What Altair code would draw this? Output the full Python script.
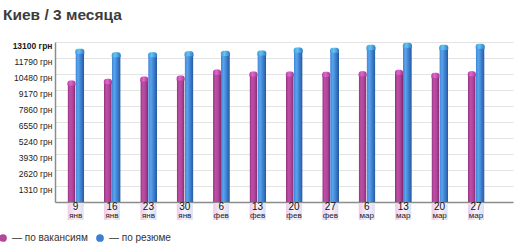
import altair as alt
import pandas as pd

# ---- data ----
days = ["9", "16", "23", "30", "6", "13", "20", "27", "6", "13", "20", "27"]
months = ["янв", "янв", "янв", "янв", "фев", "фев", "фев", "фев", "мар", "мар", "мар", "мар"]
vacancies = [9950, 10090, 10280, 10360, 10840, 10690, 10690, 10660, 10710, 10830, 10580, 10710]
resumes = [12550, 12270, 12270, 12350, 12380, 12410, 12650, 12630, 12870, 13040, 12870, 12960]
y_ticks = [1310, 2620, 3930, 5240, 6550, 7860, 9170, 10480, 11790, 13100]
series_names = ["по вакансиям", "по резюме"]
series_colors = ["#b3479c", "#3b80d4"]

df = pd.DataFrame({"i": list(range(len(days))), "day": days, "month": months,
                   "vac": vacancies, "res": resumes})

FONT = "Liberation Sans"
W, H = 458, 160

x_scale = alt.Scale(domain=[-0.43, 11.88], nice=False, zero=False)
y_scale = alt.Scale(domain=[0, 13100], nice=False, zero=True)

xax = alt.Axis(title=None, labels=False, ticks=False, grid=False, domain=True,
               domainColor="#8c8c8c", domainWidth=1.5)
yax = alt.Axis(title=None, values=y_ticks, labelExpr="datum.value + ' грн'",
               grid=True, gridColor="#e4e4e4", gridWidth=1, ticks=False,
               domain=True, domainColor="#8c8c8c", domainWidth=1.5,
               labelFont=FONT, labelFontSize=8.5, labelColor="#1a1a1a",
               labelPadding=3, labelOffset=3,
               labelFontWeight=alt.condition("datum.value == 13100", alt.value("bold"), alt.value("normal")))


def hgrad(stops):
    return alt.Gradient(gradient="linear", x1=0, x2=1, y1=0, y2=0,
                        stops=[alt.GradientStop(offset=o, color=c) for o, c in stops])


pink = hgrad([(0, "#8a3179"), (0.3, "#c04da6"), (0.65, "#b0449a"), (1, "#7a2a6c")])
blue = hgrad([(0, "#3d82d6"), (0.3, "#5ba3ec"), (0.65, "#3a7dcf"), (1, "#275696")])
pink_cap = hgrad([(0, "#b23f9e"), (0.4, "#e565d3"), (1, "#a03a8e")])
blue_cap = hgrad([(0, "#3f9adc"), (0.4, "#62c6f2"), (1, "#3378c4")])
lbl_bg = hgrad([(0, "#eecbea"), (0.5, "#f9f1f9"), (1, "#d9e0f5")])

base = alt.Chart(df)

bg = base.transform_calculate(xa="datum.i - 0.22", xb="datum.i + 0.22").mark_rect(
    color=lbl_bg).encode(
    x=alt.X("xa:Q", scale=x_scale, axis=xax), x2="xb:Q",
    y=alt.value(H + 1), y2=alt.value(H + 18))

vac_bar = base.transform_calculate(xp="datum.i - 0.115").mark_bar(
    size=8, color=pink, cornerRadiusTopLeft=4, cornerRadiusTopRight=4).encode(
    x=alt.X("xp:Q", scale=x_scale, axis=xax),
    y=alt.Y("vac:Q", scale=y_scale, axis=yax))

res_bar = base.transform_calculate(xp="datum.i + 0.115").mark_bar(
    size=9, color=blue, cornerRadiusTopLeft=4.5, cornerRadiusTopRight=4.5).encode(
    x=alt.X("xp:Q", scale=x_scale, axis=xax),
    y=alt.Y("res:Q", scale=y_scale, axis=yax))

vac_cap = base.transform_calculate(xp="datum.i - 0.115", yb="datum.vac - 420").mark_bar(
    size=8, color=pink_cap, cornerRadiusTopLeft=4, cornerRadiusTopRight=4).encode(
    x=alt.X("xp:Q", scale=x_scale, axis=xax),
    y=alt.Y("vac:Q", scale=y_scale, axis=yax), y2="yb:Q")

res_cap = base.transform_calculate(xp="datum.i + 0.115", yb="datum.res - 420").mark_bar(
    size=9, color=blue_cap, cornerRadiusTopLeft=4.5, cornerRadiusTopRight=4.5).encode(
    x=alt.X("xp:Q", scale=x_scale, axis=xax),
    y=alt.Y("res:Q", scale=y_scale, axis=yax), y2="yb:Q")

day_txt = base.mark_text(font=FONT, fontSize=10, color="#111111", baseline="middle").encode(
    x=alt.X("i:Q", scale=x_scale, axis=xax), y=alt.value(H + 5), text="day:N")

mon_txt = base.mark_text(font=FONT, fontSize=8, color="#222222", baseline="middle").encode(
    x=alt.X("i:Q", scale=x_scale, axis=xax), y=alt.value(H + 13.5), text="month:N")

legend_layer = base.transform_fold(["vac", "res"], as_=["k", "v"]).transform_calculate(
    name="datum.k == 'vac' ? 'по вакансиям' : 'по резюме'").mark_point(
    filled=True, opacity=0).encode(
    x=alt.X("i:Q", scale=x_scale, axis=xax),
    y=alt.Y("v:Q", scale=y_scale, axis=yax),
    color=alt.Color("name:N", scale=alt.Scale(domain=series_names, range=series_colors),
                    legend=alt.Legend(orient="none", legendX=-57, legendY=191,
                                      direction="horizontal", title=None,
                                      symbolType="circle", symbolSize=60, symbolOpacity=1,
                                      symbolStrokeWidth=0, labelFont=FONT, labelFontSize=10,
                                      labelColor="#333333", labelOffset=4, columnPadding=7,
                                      labelExpr="'— ' + datum.label")))

chart = alt.layer(bg, vac_bar, res_bar, vac_cap, res_cap, day_txt, mon_txt, legend_layer).properties(
    width=W, height=H,
    title=alt.Title("Киев / 3 месяца", anchor="start", frame="group",
                    font=FONT, fontSize=15.5, fontWeight="bold", color="#3c3c3c",
                    dx=-52, offset=16),
    autosize=alt.AutoSizeParams(type="none"),
    padding={"left": 55, "top": 42, "right": 3, "bottom": 47},
).configure_view(stroke=None)

chart.save("out.html", embed_options={"renderer": "svg", "actions": False})
